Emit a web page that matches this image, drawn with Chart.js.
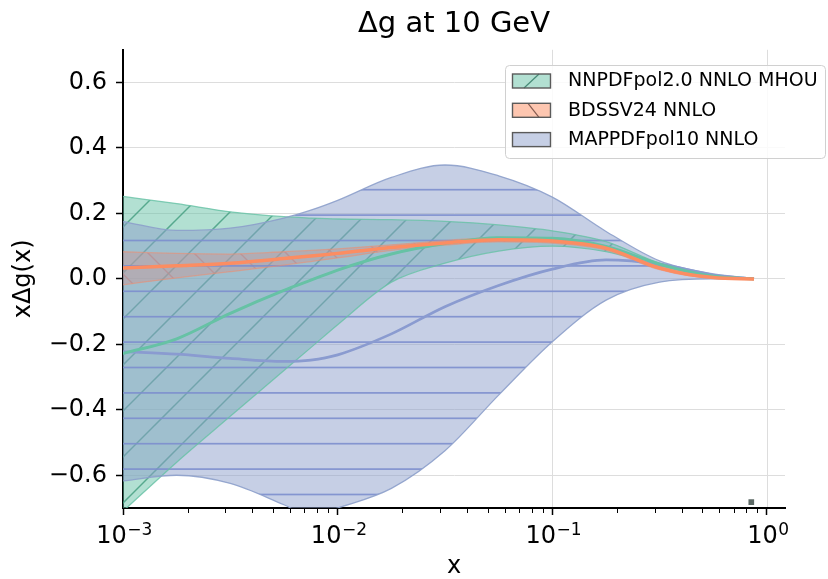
<!DOCTYPE html>
<html>
<head>
<meta charset="utf-8">
<title>Δg at 10 GeV</title>
<script src="https://cdn.jsdelivr.net/npm/chart.js@4.4.0/dist/chart.umd.min.js"></script>
<style>
  html, body { margin: 0; padding: 0; background: #fff; }
  #wrap { position: relative; width: 828px; height: 579px; }
</style>
</head>
<body>
<div id="wrap"><canvas id="chart" width="828" height="579"></canvas></div>
<script>
  "use strict";

  // ---- data (x on a log axis) ----
  const X_VALUES = [0.001, 0.00178, 0.00316, 0.00562, 0.0075, 0.01, 0.0178, 0.0316, 0.0562, 0.1, 0.178, 0.316, 0.562, 0.87];

  const NNPDF_UPPER   = [0.252, 0.230, 0.205, 0.190, 0.186, 0.183, 0.181, 0.176, 0.165, 0.147, 0.114, 0.048, 0.010, 0.001];
  const NNPDF_CENTRAL = [-0.228, -0.183, -0.105, -0.035, -0.004, 0.027, 0.076, 0.108, 0.126, 0.124, 0.099, 0.045, 0.008, 0.0];
  const NNPDF_LOWER   = [-0.710, -0.560, -0.420, -0.280, -0.210, -0.140, -0.010, 0.048, 0.085, 0.100, 0.083, 0.040, 0.006, 0.0];

  const BDSSV_UPPER   = [0.083, 0.078, 0.076, 0.083, 0.087, 0.092, 0.104, 0.117, 0.127, 0.123, 0.100, 0.038, 0.006, 0.0];
  const BDSSV_CENTRAL = [0.033, 0.040, 0.048, 0.062, 0.070, 0.078, 0.096, 0.110, 0.120, 0.116, 0.094, 0.033, 0.004, 0.0];
  const BDSSV_LOWER   = [-0.018, 0.003, 0.022, 0.042, 0.053, 0.064, 0.087, 0.103, 0.113, 0.109, 0.088, 0.028, 0.002, 0.0];

  const MAP_UPPER   = [0.175, 0.148, 0.155, 0.186, 0.210, 0.240, 0.310, 0.348, 0.315, 0.250, 0.145, 0.055, 0.015, 0.002];
  const MAP_CENTRAL = [-0.222, -0.230, -0.243, -0.252, -0.248, -0.232, -0.168, -0.085, -0.020, 0.030, 0.058, 0.045, 0.012, 0.0];
  const MAP_LOWER   = [-0.617, -0.600, -0.625, -0.690, -0.725, -0.700, -0.640, -0.525, -0.355, -0.192, -0.065, -0.010, 0.0, 0.0];

  // stray marker near the bottom right of the plot
  const MARKER_X = [0.845];
  const MARKER_Y = [-0.682];

  const X_TICKS = [0.001, 0.01, 0.1, 1];
  const X_TICK_BASE = ["10", "10", "10", "10"];
  const X_TICK_EXP = ["\u22123", "\u22122", "\u22121", "0"];
  const X_GRID = [0.1, 1]; // vertical grid lines that show in the reference
  const X_MINOR = [0.002, 0.003, 0.004, 0.005, 0.006, 0.007, 0.008, 0.009,
                   0.02, 0.03, 0.04, 0.05, 0.06, 0.07, 0.08, 0.09,
                   0.2, 0.3, 0.4, 0.5, 0.6, 0.7, 0.8, 0.9];
  const Y_TICKS = [-0.6, -0.4, -0.2, 0.0, 0.2, 0.4, 0.6];

  const LEGEND_LABELS = ["NNPDFpol2.0 NNLO MHOU", "BDSSV24 NNLO", "MAPPDFpol10 NNLO"];

  // Set2-like palette
  const COLORS = {
    green: "#66c2a5",
    orange: "#fc8d62",
    blue: "#8a9bd0",
    grid: "#dddddd",
  };

  const FONT = "'DejaVu Sans', sans-serif";
  Chart.defaults.font.family = FONT;
  Chart.defaults.color = "#000";

  const canvas = document.getElementById("chart");
  const ctx = canvas.getContext("2d");

  // ---------------------------------------------------------------- hatches

  /** Square tile with diagonal lines ("/" or "\"), anchored to canvas origin. */
  function diagHatch(fill, stroke, period, phase, dir, lw) {
    const c = document.createElement("canvas");
    c.width = period;
    c.height = period;
    const g = c.getContext("2d");
    g.fillStyle = fill;
    g.fillRect(0, 0, period, period);
    g.strokeStyle = stroke;
    g.lineWidth = lw;
    for (let k = -3; k <= 3; k++) {
      const off = phase + k * period;
      g.beginPath();
      if (dir === "/") {
        g.moveTo(off + 2 * period, -2 * period);
        g.lineTo(off - 2 * period, 2 * period);
      } else {
        g.moveTo(off - 2 * period, -2 * period);
        g.lineTo(off + 2 * period, 2 * period);
      }
      g.stroke();
    }
    return ctx.createPattern(c, "repeat");
  }

  /** Tile with horizontal lines every `spacing` px (non-integer spacing kept over `count` lines). */
  function horizHatch(fill, stroke, spacing, phase, count, lw) {
    const c = document.createElement("canvas");
    c.width = 10;
    c.height = Math.round(spacing * count);
    const g = c.getContext("2d");
    g.fillStyle = fill;
    g.fillRect(0, 0, c.width, c.height);
    g.strokeStyle = stroke;
    g.lineWidth = lw;
    for (let k = 0; k < count; k++) {
      const y = phase + k * spacing;
      g.beginPath();
      g.moveTo(0, y);
      g.lineTo(c.width, y);
      g.stroke();
    }
    return ctx.createPattern(c, "repeat");
  }

  const greenPattern = diagHatch("rgba(102,194,165,0.5)", "rgba(70,160,130,0.85)", 46, 28, "/", 1.5);
  const orangePattern = diagHatch("rgba(252,141,98,0.45)", "rgba(235,120,85,0.7)", 46, 33, "\\", 1.3);
  const bluePattern = horizHatch("rgba(141,160,203,0.5)", "rgba(125,143,206,0.9)", 25.4, 11.9, 5, 1.7);

  function pts(ys) {
    return X_VALUES.map((x, i) => ({ x: x, y: ys[i] }));
  }

  function centralLine(data, color, width, order) {
    return {
      data: pts(data), borderColor: color, borderWidth: width, fill: false,
      pointRadius: 0, cubicInterpolationMode: "monotone", order: order,
    };
  }

  function bandEdge(data, color, fill, bg, order) {
    return {
      data: pts(data), borderColor: color, borderWidth: 1.3, fill: fill, backgroundColor: bg,
      pointRadius: 0, cubicInterpolationMode: "monotone", order: order,
    };
  }

  // ------------------------------------------------------------- plugins

  // vertical grid only at the decades the reference shows (drawn under everything)
  const decadeGrid = {
    id: "decadeGrid",
    beforeDraw(chart) {
      const xs = chart.scales.x;
      const a = chart.chartArea;
      const c = chart.ctx;
      c.save();
      c.strokeStyle = COLORS.grid;
      c.lineWidth = 1;
      X_GRID.forEach((v) => {
        const p = Math.round(xs.getPixelForValue(v)) + 0.5;
        c.beginPath();
        c.moveTo(p, a.top);
        c.lineTo(p, a.bottom);
        c.stroke();
      });
      c.restore();
    },
  };

  // minor log ticks + "10^n" labels with a raised, smaller exponent
  const logAxisExtras = {
    id: "logAxisExtras",
    afterDraw(chart) {
      const xs = chart.scales.x;
      const bottom = chart.chartArea.bottom;
      const c = chart.ctx;
      c.save();
      c.strokeStyle = "#000";
      c.lineWidth = 1;
      X_MINOR.forEach((v) => {
        const p = Math.round(xs.getPixelForValue(v)) + 0.5;
        c.beginPath();
        c.moveTo(p, bottom);
        c.lineTo(p, bottom + 5);
        c.stroke();
      });

      c.fillStyle = "#000";
      c.textAlign = "left";
      c.textBaseline = "alphabetic";
      X_TICKS.forEach((v, i) => {
        const p = xs.getPixelForValue(v);
        c.font = "24px " + FONT;
        const wb = c.measureText(X_TICK_BASE[i]).width;
        c.font = "17px " + FONT;
        const we = c.measureText(X_TICK_EXP[i]).width;
        const x0 = p - (wb + we) / 2 + 1;
        c.font = "24px " + FONT;
        c.fillText(X_TICK_BASE[i], x0, 543);
        c.font = "17px " + FONT;
        c.fillText(X_TICK_EXP[i], x0 + wb + 0.5, 535);
      });
      c.restore();
    },
  };

  // framed legend sitting in the top-right corner, over the plot
  const frameLegend = {
    id: "frameLegend",
    afterDraw(chart) {
      const c = chart.ctx;
      const fills = ["rgba(102,194,165,0.5)", "rgba(252,141,98,0.5)", "rgba(141,160,203,0.5)"];
      c.save();
      c.beginPath();
      c.roundRect(505.5, 65.5, 320, 93, 4);
      c.fillStyle = "rgba(255,255,255,0.85)";
      c.fill();
      c.strokeStyle = "#d0d0d0";
      c.lineWidth = 1;
      c.stroke();

      c.font = "19px " + FONT;
      c.textBaseline = "middle";
      c.textAlign = "left";
      LEGEND_LABELS.forEach((label, i) => {
        const y0 = 74 + i * 29.3;
        c.fillStyle = "#fff";
        c.fillRect(512.5, y0, 38, 14);
        c.fillStyle = fills[i];
        c.fillRect(512.5, y0, 38, 14);
        c.lineWidth = 1.2;
        if (i === 0) {
          c.strokeStyle = "rgba(60,130,110,0.9)";
          c.beginPath(); c.moveTo(524, y0 + 14); c.lineTo(539, y0); c.stroke();
        } else if (i === 1) {
          c.strokeStyle = "rgba(120,80,70,0.9)";
          c.beginPath(); c.moveTo(528, y0); c.lineTo(539, y0 + 14); c.stroke();
        }
        c.strokeStyle = "#5a5a5a";
        c.lineWidth = 1.4;
        c.strokeRect(512.5, y0, 38, 14);
        c.fillStyle = "#000";
        c.fillText(label, 568, y0 + 7.5);
      });
      c.restore();
    },
  };

  // ----------------------------------------------------------------- chart

  new Chart(ctx, {
    type: "line",
    data: {
      datasets: [
        centralLine(BDSSV_CENTRAL, COLORS.orange, 3.5, 0),
        centralLine(NNPDF_CENTRAL, COLORS.green, 3, 1),
        centralLine(MAP_CENTRAL, COLORS.blue, 2.7, 2),
        bandEdge(MAP_UPPER, "rgba(141,160,203,0.9)", "+1", bluePattern, 10),
        bandEdge(MAP_LOWER, "rgba(141,160,203,0.9)", false, "transparent", 11),
        bandEdge(BDSSV_UPPER, "rgba(240,140,110,0.55)", "+1", orangePattern, 12),
        bandEdge(BDSSV_LOWER, "rgba(240,140,110,0.55)", false, "transparent", 13),
        bandEdge(NNPDF_UPPER, "rgba(102,194,165,0.8)", "+1", greenPattern, 14),
        bandEdge(NNPDF_LOWER, "rgba(102,194,165,0.8)", false, "transparent", 15),
        {
          data: MARKER_X.map((x, i) => ({ x: x, y: MARKER_Y[i] })),
          showLine: false, pointStyle: "rect", pointRadius: 4,
          backgroundColor: "#5d6a66", borderWidth: 0, order: 3,
        },
      ],
    },
    options: {
      responsive: false,
      devicePixelRatio: 1,
      animation: false,
      events: [],
      layout: { padding: { left: 0, right: 43, top: 0, bottom: 0 } },
      plugins: {
        legend: { display: false },
        tooltip: { enabled: false },
        filler: { drawTime: "beforeDatasetsDraw" },
        title: {
          display: true,
          text: "Δg at 10 GeV",
          fullSize: false,
          color: "#000",
          font: { size: 29, weight: "normal" },
          padding: { top: 7, bottom: 8 },
        },
      },
      scales: {
        x: {
          type: "logarithmic",
          min: 0.001,
          max: 1.213,
          afterBuildTicks: (axis) => { axis.ticks = X_TICKS.map((v) => ({ value: v, major: true })); },
          afterFit: (axis) => { axis.height = 71; },
          ticks: { display: false, autoSkip: false, maxRotation: 0 },
          grid: { drawOnChartArea: false, tickColor: "#000", tickLength: 7, tickWidth: 1.5 },
          border: { display: true, color: "#000", width: 2 },
          title: { display: true, text: "x", color: "#000", font: { size: 24, lineHeight: 1 }, padding: { top: 0, bottom: 0 } },
        },
        y: {
          type: "linear",
          min: -0.7,
          max: 0.7,
          afterBuildTicks: (axis) => { axis.ticks = Y_TICKS.map((v) => ({ value: v })); },
          afterFit: (axis) => { axis.width = 123; },
          ticks: {
            padding: 9, color: "#000",
            font: { size: 24 },
            callback: (v) => Number(v).toFixed(1).replace("-", "\u2212"),
          },
          grid: { color: COLORS.grid, lineWidth: 1, tickColor: "#000", tickLength: 7, tickWidth: 1.5 },
          border: { display: true, color: "#000", width: 2 },
          title: { display: true, text: "xΔg(x)", color: "#000", font: { size: 24 }, padding: { top: 9 } },
        },
      },
    },
    plugins: [decadeGrid, logAxisExtras, frameLegend],
  });
</script>
</body>
</html>
